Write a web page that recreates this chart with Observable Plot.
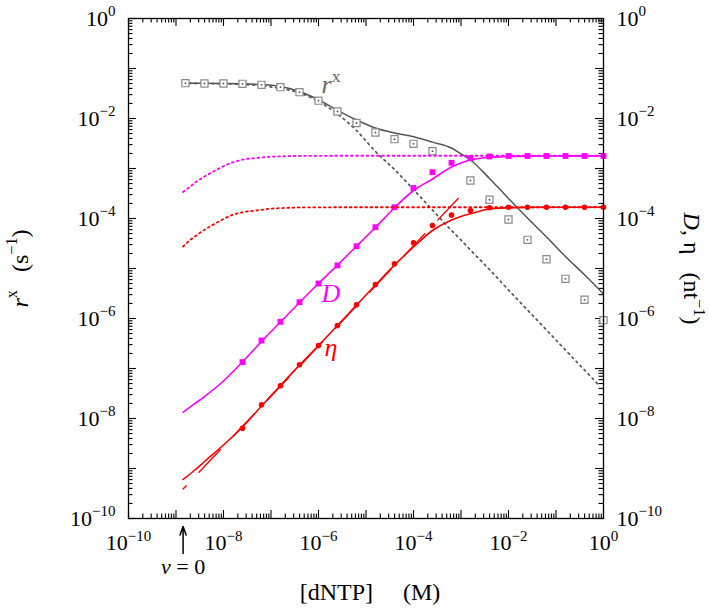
<!DOCTYPE html>
<html><head><meta charset="utf-8">
<script src="https://cdn.jsdelivr.net/npm/d3@7"></script>
<script src="https://cdn.jsdelivr.net/npm/@observablehq/plot@0.6"></script>
<style>html,body{margin:0;padding:0;background:#fff;} svg{display:block}</style>
</head><body><div id="chart"></div>
<script>
// ---------- data ----------
// concentrations of the simulated points, M
const markerConc = [1.58e-9, 3.98e-9, 1.00e-8, 2.51e-8, 6.31e-8, 1.58e-7, 3.98e-7, 1.00e-6, 2.51e-6, 6.31e-6, 1.58e-5, 3.98e-5, 1.00e-4, 2.51e-4, 6.31e-4, 1.58e-3, 3.98e-3, 1.00e-2, 2.51e-2, 6.31e-2, 0.158, 0.398, 1];
// r^x points (open squares), s^-1
const rxMeasured = [0.0508, 0.0501, 0.0501, 0.0494, 0.0472, 0.0423, 0.0336, 0.0227, 0.0138, 0.00813, 0.00525, 0.00385, 0.00312, 0.00222, null, 5.75e-4, 2.37e-4, 9.55e-5, 3.75e-5, 1.53e-5, 6.22e-6, 2.37e-6, 9.25e-7];
// D points (filled squares), nt^-1
const dMeasured = [null, null, null, 1.34e-7, 3.63e-7, 8.59e-7, 2.12e-6, 5.01e-6, 1.15e-5, 2.79e-5, 6.70e-5, 1.68e-4, 4.07e-4, 8.43e-4, 1.30e-3, 1.61e-3, 1.74e-3, 1.78e-3, 1.78e-3, 1.78e-3, 1.78e-3, 1.78e-3, 1.78e-3];
// eta points (filled circles), nt^-1
const etaMeasured = [null, null, null, 6.40e-9, 1.88e-8, 4.51e-8, 1.19e-7, 2.88e-7, 7.24e-7, 1.88e-6, 4.79e-6, 1.24e-5, 3.27e-5, 7.24e-5, 1.17e-4, 1.45e-4, 1.64e-4, 1.68e-4, 1.68e-4, 1.68e-4, 1.68e-4, 1.68e-4, 1.68e-4];

// solid model curves
const curveConc = [1.41e-9, 2.51e-9, 3.98e-9, 1.00e-8, 2.51e-8, 6.31e-8, 1.58e-7, 3.98e-7, 1.00e-6, 2.51e-6, 6.31e-6, 1.58e-5, 3.98e-5, 1.00e-4, 2.51e-4, 6.31e-4, 1.00e-3, 1.58e-3, 3.98e-3, 1.00e-2, 2.51e-2, 6.31e-2, 0.158, 0.398, 1];
const rxModel = [0.0508, 0.0507, 0.0505, 0.0501, 0.0494, 0.0476, 0.0437, 0.0347, 0.0237, 0.0145, 0.00933, 0.00646, 0.00513, 0.00432, 0.00337, 0.00257, 0.00195, 0.00148, 6.31e-4, 2.51e-4, 1.02e-4, 4.27e-5, 1.74e-5, 7.5e-6, 3.1e-6];
const dModel = [1.34e-8, 2.00e-8, 2.75e-8, 5.62e-8, 1.35e-7, 3.47e-7, 8.51e-7, 2.09e-6, 5.01e-6, 1.17e-5, 2.79e-5, 6.61e-5, 1.64e-4, 3.63e-4, 6.17e-4, 1.07e-3, 1.29e-3, 1.48e-3, 1.68e-3, 1.74e-3, 1.77e-3, 1.78e-3, 1.79e-3, 1.79e-3, 1.79e-3];
const etaModel = [6.03e-10, 9.33e-10, 1.38e-9, 2.95e-9, 6.76e-9, 1.78e-8, 4.57e-8, 1.17e-7, 2.88e-7, 7.24e-7, 1.86e-6, 4.68e-6, 1.17e-5, 2.69e-5, 5.75e-5, 9.33e-5, 1.10e-4, 1.24e-4, 1.55e-4, 1.64e-4, 1.67e-4, 1.68e-4, 1.68e-4, 1.68e-4, 1.68e-4];

// dotted r^x curve
const rxAltConc = [1.41e-9, 2.51e-9, 3.98e-9, 1.00e-8, 2.51e-8, 6.31e-8, 1.58e-7, 3.98e-7, 1.00e-6, 2.51e-6, 6.31e-6, 1.58e-5, 3.98e-5, 1.00e-4, 2.51e-4, 6.31e-4, 1.00e-3, 1.58e-3, 3.98e-3, 1.00e-2, 2.51e-2, 6.31e-2, 0.158, 0.398, 0.794];
const rxAlt = [0.0506, 0.0504, 0.0501, 0.0495, 0.0479, 0.0452, 0.0398, 0.0324, 0.0219, 0.0123, 0.00575, 0.00219, 9.55e-4, 3.80e-4, 1.48e-4, 5.75e-5, 3.72e-5, 2.34e-5, 9.55e-6, 3.72e-6, 1.48e-6, 5.89e-7, 2.34e-7, 9.33e-8, 4.68e-8];

// dotted D and eta curves
const altConc = [1.41e-9, 2.00e-9, 2.51e-9, 3.98e-9, 6.31e-9, 1.00e-8, 1.58e-8, 2.51e-8, 5.01e-8, 1.00e-7, 2.00e-7, 5.01e-7, 1.00e-5, 1.00e-2, 1];
const dAlt = [3.39e-4, 4.37e-4, 5.19e-4, 6.92e-4, 8.83e-4, 1.11e-3, 1.33e-3, 1.50e-3, 1.62e-3, 1.72e-3, 1.76e-3, 1.79e-3, 1.80e-3, 1.80e-3, 1.80e-3];
const etaAlt = [2.75e-5, 3.72e-5, 4.37e-5, 5.96e-5, 7.67e-5, 9.77e-5, 1.19e-4, 1.33e-4, 1.45e-4, 1.57e-4, 1.63e-4, 1.67e-4, 1.68e-4, 1.68e-4, 1.68e-4];

// dashed eta asymptote
const etaLimitConc = [1.41e-9, 8.71e-4];
const etaLimit = [3.89e-10, 2.51e-4];

// tick labels
const labelTicks = [1e-10, 1e-8, 1e-6, 1e-4, 1e-2, 1];
const decadeTicks = [1e-10, 1e-9, 1e-8, 1e-7, 1e-6, 1e-5, 1e-4, 1e-3, 1e-2, 1e-1, 1];

// annotations
const vZeroConc = 1.41e-9;
const curveLabels = [
  {x: 1.16e-6, y: 0.0331, text: "*{r}^{x}", color: "#666"},
  {x: 1.16e-6, y: 2.09e-6, text: "*{D}", color: "#ff00ff"},
  {x: 1.34e-6, y: 1.74e-7, text: "*{η}", color: "#ff0000"}
];

// ---------- layout ----------
const W = 709, H = 610, mL = 128, mR = 106, mT = 18, mB = 92;
const plotW = W - mL - mR, plotH = H - mT - mB;
const majorLen = 8, minorLen = 4.5;
const minorTicks = [];
for (let e = -10; e < 0; e++) for (let k = 2; k <= 9; k++) minorTicks.push(k * Math.pow(10, e));

const pts = (xs, ys) => xs.map((x, i) => ({x, y: ys[i]})).filter(d => d.y != null);
const fmt = d => { const e = Math.round(Math.log10(d)); return "10^{" + (e < 0 ? "\u2212" + (-e) : String(e)) + "}"; };
const MAG = "#ff00ff", RED = "#ff0000", GRAY = "#555555";
const tk = {stroke: "#000", strokeWidth: 1.1};

const chart = Plot.plot({
  width: W, height: H,
  marginLeft: mL, marginRight: mR, marginTop: mT, marginBottom: mB,
  style: {fontFamily: "Liberation Serif, serif", fontSize: "22px", background: "#fff", color: "#000"},
  x: {type: "log", domain: [1e-10, 1]},
  y: {type: "log", domain: [1e-10, 1]},
  marks: [
    // inward ticks on all four sides
    Plot.ruleX(decadeTicks, {x: d => d, insetTop: plotH - majorLen, ...tk}),
    Plot.ruleX(decadeTicks, {x: d => d, insetBottom: plotH - majorLen, ...tk}),
    Plot.ruleY(decadeTicks, {y: d => d, insetRight: plotW - majorLen, ...tk}),
    Plot.ruleY(decadeTicks, {y: d => d, insetLeft: plotW - majorLen, ...tk}),
    Plot.ruleX(minorTicks, {x: d => d, insetTop: plotH - minorLen, ...tk}),
    Plot.ruleX(minorTicks, {x: d => d, insetBottom: plotH - minorLen, ...tk}),
    Plot.ruleY(minorTicks, {y: d => d, insetRight: plotW - minorLen, ...tk}),
    Plot.ruleY(minorTicks, {y: d => d, insetLeft: plotW - minorLen, ...tk}),
    // tick labels
    Plot.axisX(labelTicks, {anchor: "bottom", tickSize: 0, tickPadding: 16, tickFormat: fmt, fontSize: 22, label: null}),
    Plot.axisY(labelTicks, {anchor: "left", tickSize: 0, tickPadding: 13, tickFormat: fmt, fontSize: 22, label: null}),
    Plot.axisY(labelTicks, {anchor: "right", tickSize: 0, tickPadding: 13, tickFormat: fmt, fontSize: 22, label: null}),
    // r^x curves
    Plot.line(pts(rxAltConc, rxAlt), {x: "x", y: "y", stroke: GRAY, strokeWidth: 1.7, strokeDasharray: "1.8,4", curve: "monotone-x"}),
    Plot.line(pts(curveConc, rxModel), {x: "x", y: "y", stroke: GRAY, strokeWidth: 1.5, curve: "monotone-x"}),
    Plot.dot(pts(markerConc, rxMeasured), {x: "x", y: "y", symbol: "square", r: 4, fill: "#fff", stroke: "#8a8a8a", strokeWidth: 1.2}),
    Plot.dot(pts(markerConc, rxMeasured), {x: "x", y: "y", r: 0.9, fill: GRAY}),
    // D curves
    Plot.line(pts(altConc, dAlt), {x: "x", y: "y", stroke: MAG, strokeWidth: 1.8, strokeDasharray: "1.8,3.4", curve: "monotone-x"}),
    Plot.line(pts(curveConc, dModel), {x: "x", y: "y", stroke: MAG, strokeWidth: 1.6, curve: "monotone-x"}),
    Plot.dot(pts(markerConc, dMeasured), {x: "x", y: "y", symbol: "square", r: 3.3, fill: MAG}),
    // eta curves
    Plot.line(pts(altConc, etaAlt), {x: "x", y: "y", stroke: RED, strokeWidth: 1.8, strokeDasharray: "1.8,3.4", curve: "monotone-x"}),
    Plot.line(pts(etaLimitConc, etaLimit), {x: "x", y: "y", stroke: RED, strokeWidth: 1.4, strokeDasharray: "31,18.6", strokeDashoffset: 26.5}),
    Plot.line(pts(curveConc, etaModel), {x: "x", y: "y", stroke: RED, strokeWidth: 1.6, curve: "monotone-x"}),
    Plot.dot(pts(markerConc, etaMeasured), {x: "x", y: "y", r: 2.8, fill: RED}),
    // curve labels
    Plot.text(curveLabels, {x: "x", y: "y", text: "text", fill: "color", fontSize: 26, textAnchor: "start", lineAnchor: "bottom"}),
    // v = 0 marker
    Plot.arrow([vZeroConc], {x1: d => d, x2: d => d, y1: () => 2.0e-11, y2: () => 6.9e-11, stroke: "#000", strokeWidth: 1.5, headLength: 10, headAngle: 40}),
    Plot.text([vZeroConc], {x: d => d, frameAnchor: "bottom", dy: 55, textAnchor: "middle", lineAnchor: "bottom", text: () => "*{v}\u00a0=\u00a00", fontSize: 22}),
    // axis titles
    Plot.text(["*{r}^{x}\u00a0\u00a0\u00a0(s^{\u22121})"], {frameAnchor: "left", dx: -101, rotate: -90, textAnchor: "middle", lineAnchor: "bottom", fontSize: 24}),
    Plot.text(["*{D},\u00a0η\u00a0\u00a0\u00a0(nt^{\u22121})"], {frameAnchor: "right", dx: 80, rotate: 90, textAnchor: "middle", lineAnchor: "bottom", fontSize: 24}),
    Plot.text(["[dNTP]\u00a0\u00a0\u00a0\u00a0\u00a0(M)"], {frameAnchor: "bottom", dx: 4, dy: 81, textAnchor: "middle", lineAnchor: "bottom", fontSize: 24}),
    Plot.frame({stroke: "#000", strokeWidth: 1.3})
  ]
});
document.getElementById("chart").appendChild(chart);

// rich text: ^{...} superscript, *{...} italic
function richify(svg) {
  svg.querySelectorAll("text").forEach(el => {
    const src = el.textContent;
    if (!/[\^*]\{/.test(src)) return;
    const fs = parseFloat(getComputedStyle(el).fontSize) || 22;
    const parts = [];
    const re = /\^\{([^}]*)\}|\*\{([^}]*)\}|([^\^*]+|[\^*])/g;
    let m;
    while ((m = re.exec(src))) {
      if (m[1] !== undefined) parts.push({t: m[1], sup: true});
      else if (m[2] !== undefined) parts.push({t: m[2], it: true});
      else parts.push({t: m[3]});
    }
    el.textContent = "";
    let raised = false;
    const rise = fs * 0.42;
    for (const p of parts) {
      const ts = document.createElementNS("http://www.w3.org/2000/svg", "tspan");
      ts.textContent = p.t;
      if (p.sup) {
        ts.setAttribute("font-size", (fs * 0.68).toFixed(1));
        if (!raised) ts.setAttribute("dy", (-rise).toFixed(1));
        raised = true;
      } else {
        if (raised) ts.setAttribute("dy", rise.toFixed(1));
        raised = false;
      }
      if (p.it) ts.setAttribute("font-style", "italic");
      el.appendChild(ts);
    }
  });
}
richify(chart);
</script>
</body></html>
